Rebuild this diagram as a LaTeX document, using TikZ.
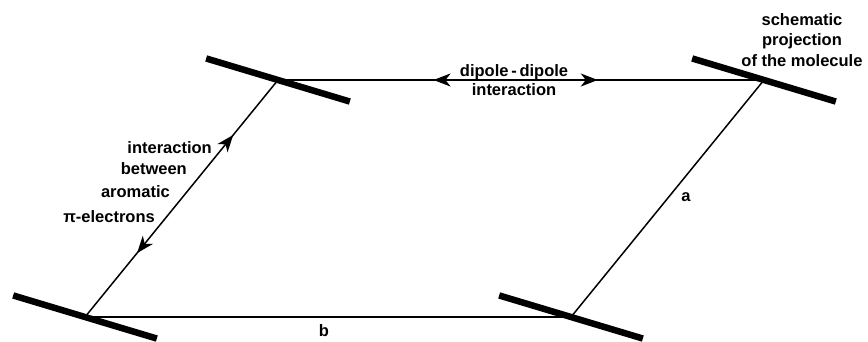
\documentclass[tikz,border=0pt]{standalone}
\usepackage{fontspec}
\setmainfont{Liberation Sans}
\usetikzlibrary{arrows.meta, decorations.markings}

\tikzset{
  molecule/.style={line width=6.5pt},
  link/.style={line width=1.5pt},
  txt/.style={font=\fontsize{16.5}{19}\selectfont\bfseries, inner sep=0pt},
  twoway/.style 2 args={postaction={decorate},
    decoration={markings,
      mark=at position #1 with {\arrowreversed{Stealth[length=17pt, width=13pt, inset=5pt]}},
      mark=at position #2 with {\arrow{Stealth[length=17pt, width=13pt, inset=5pt]}}}}
}

\begin{document}
\begin{tikzpicture}[x=1pt, y=-1pt]
    \useasboundingbox (0,0) rectangle (868,341);

    % Molecule positions (corners of the cell)
    \coordinate (tl) at (278,80);
    \coordinate (tr) at (764,80);
    \coordinate (br) at (571,317);
    \coordinate (bl) at (85,317);

    % Cell edges
    \draw[link, twoway={0.32}{0.658}] (tl) -- (tr);
    \draw[link] (tr) -- (br);
    \draw[link] (br) -- (bl);
    \draw[link, twoway={0.27}{0.768}] (bl) -- (tl);

    % Schematic molecules
    \foreach \m in {tl, tr, br, bl}
        \draw[molecule] ([shift={(196.7:75)}]\m) -- ([shift={(16.7:75)}]\m);

    % Labels
    \node[txt, align=center] (dipole) at (514,80) {dipole\,-\,dipole\\interaction};
    \node[txt, align=center, font=\fontsize{16.5}{20.5}\selectfont\bfseries] (proj) at (802,40) {schematic\\projection\\of the molecule};
    \node[txt, anchor=base east] (pi1) at (212,153) {interaction};
    \node[txt, anchor=base east] (pi2) at (187,174) {between};
    \node[txt, anchor=base east] (pi3) at (170,197) {aromatic};
    \node[txt, anchor=base east] (pi4) at (155,222) {π-electrons};
    \node[txt] (a) at (686,197) {a};
    \node[txt] (b) at (324,331) {b};
\end{tikzpicture}
\end{document}
